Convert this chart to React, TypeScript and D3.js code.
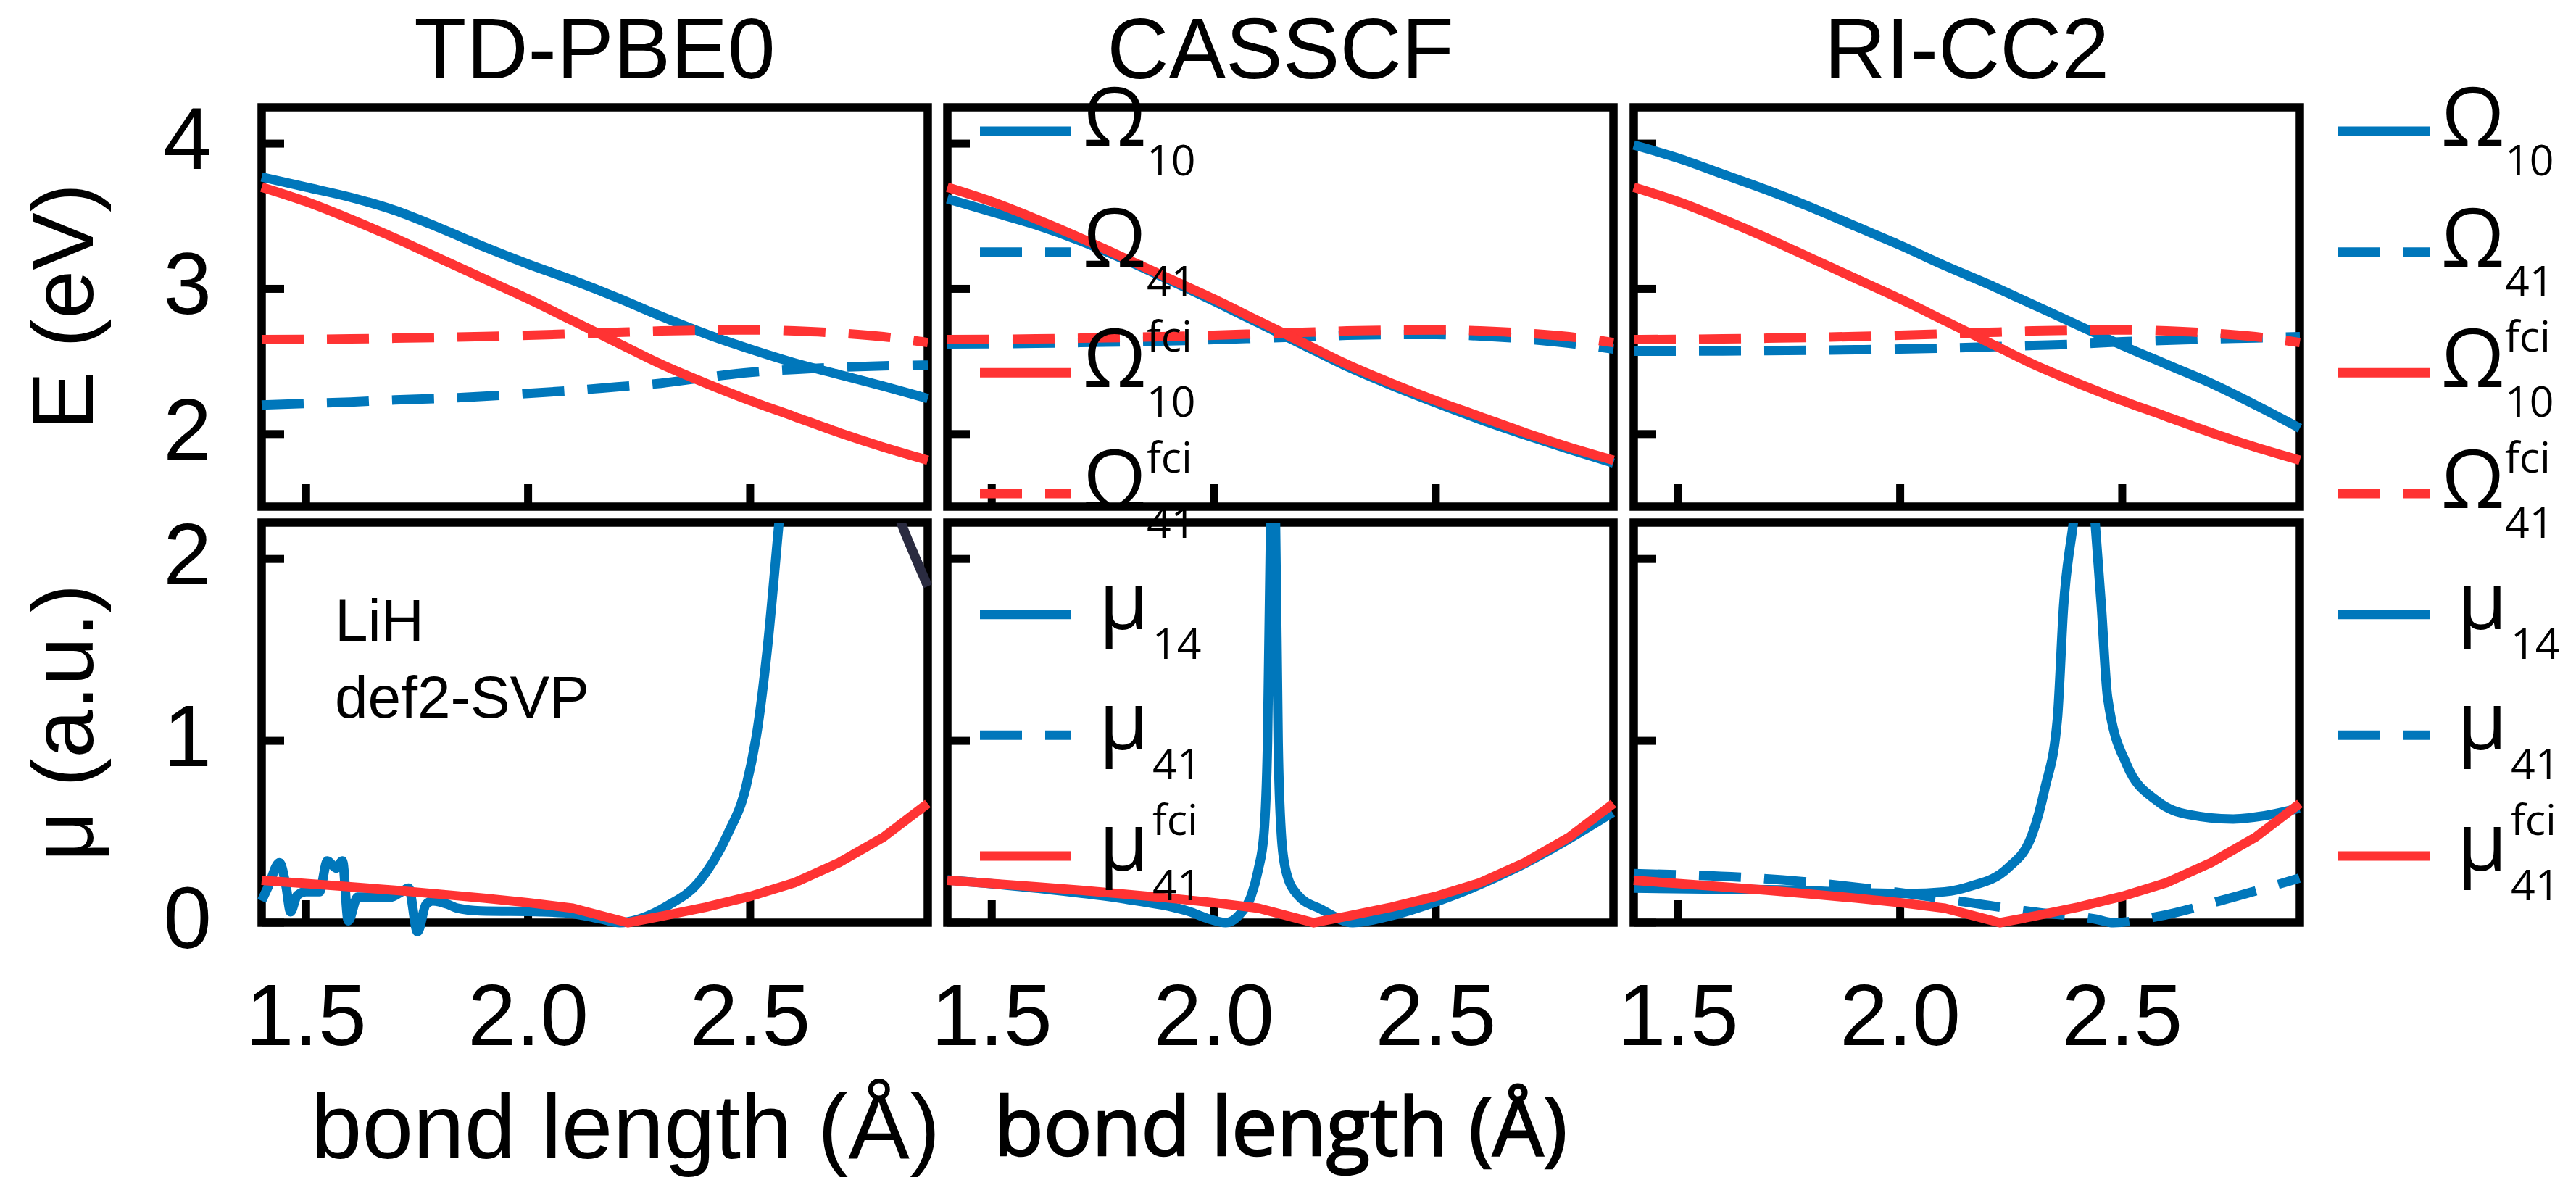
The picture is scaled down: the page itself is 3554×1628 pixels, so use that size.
import React, { useEffect } from 'react';
import * as d3 from 'd3';

// ---------------- data ----------------
const bondGrid = [1.4, 1.5, 1.6, 1.7, 1.8, 1.9, 2.0, 2.1, 2.2, 2.3, 2.4, 2.5, 2.6, 2.7, 2.8, 2.9];

// FCI references (same in every panel)
const omega10Fci = [3.70, 3.60, 3.48, 3.35, 3.21, 3.07, 2.93, 2.78, 2.63, 2.48, 2.35, 2.23, 2.12, 2.01, 1.91, 1.82];
const omega41Fci = [2.65, 2.652, 2.655, 2.66, 2.665, 2.672, 2.68, 2.69, 2.70, 2.71, 2.715, 2.717, 2.71, 2.695, 2.67, 2.63];
const mu41FciX = [1.4, 1.5, 1.6, 1.7, 1.8, 1.9, 2.0, 2.1, 2.225, 2.3, 2.4, 2.5, 2.6, 2.7, 2.8, 2.9];
const mu41FciY = [0.233, 0.215, 0.197, 0.178, 0.157, 0.135, 0.11, 0.08, 0.0, 0.035, 0.085, 0.145, 0.22, 0.33, 0.47, 0.655];

// TD-PBE0
const tdOmega10 = [3.77, 3.70, 3.63, 3.54, 3.42, 3.29, 3.17, 3.06, 2.94, 2.81, 2.69, 2.585, 2.49, 2.41, 2.33, 2.245];
const tdOmega41 = [2.20, 2.21, 2.22, 2.235, 2.245, 2.26, 2.28, 2.30, 2.325, 2.35, 2.39, 2.425, 2.445, 2.46, 2.47, 2.475];
const tdMu14X = [1.40, 1.415, 1.44, 1.455, 1.465, 1.48, 1.50, 1.53, 1.548, 1.568, 1.582, 1.595, 1.616, 1.636, 1.69, 1.715, 1.731, 1.751, 1.77, 1.785, 1.82, 1.84, 1.893, 2.029, 2.1, 2.164, 2.207, 2.25, 2.316, 2.383, 2.45, 2.49, 2.518, 2.538, 2.565, 2.58];
const tdMu14Y = [0.12, 0.2, 0.33, 0.2, 0.06, 0.15, 0.17, 0.17, 0.34, 0.30, 0.34, 0.01, 0.14, 0.14, 0.14, 0.17, 0.19, -0.05, 0.1, 0.12, 0.10, 0.08, 0.065, 0.06, 0.05, 0.02, 0.0, 0.02, 0.096, 0.22, 0.49, 0.74, 1.09, 1.49, 2.2, 2.6];
const tdDarkX = [2.82, 2.84, 2.87, 2.9];
const tdDarkY = [2.35, 2.2, 2.02, 1.85];

// CASSCF
const casOmega10 = [3.62, 3.53, 3.44, 3.33, 3.20, 3.06, 2.915, 2.765, 2.615, 2.465, 2.335, 2.215, 2.10, 1.995, 1.895, 1.80];
const casOmega41 = [2.62, 2.622, 2.625, 2.63, 2.635, 2.642, 2.65, 2.66, 2.67, 2.68, 2.685, 2.685, 2.675, 2.655, 2.625, 2.585];
const casMu14X = [1.4, 1.6, 1.8, 1.946, 1.99, 2.027, 2.06, 2.084, 2.10, 2.113, 2.121, 2.128, 2.132, 2.139, 2.145, 2.152, 2.162, 2.187, 2.244, 2.313, 2.393, 2.508, 2.68, 2.898];
const casMu14Y = [0.235, 0.19, 0.13, 0.06, 0.02, 0.0, 0.05, 0.146, 0.29, 0.49, 0.99, 2.2, 2.6, 2.2, 0.99, 0.49, 0.29, 0.158, 0.071, 0.0, 0.034, 0.121, 0.30, 0.606];

// RI-CC2
const ccOmega10 = [3.99, 3.90, 3.79, 3.68, 3.56, 3.43, 3.30, 3.16, 3.03, 2.89, 2.75, 2.61, 2.48, 2.35, 2.20, 2.04];
const ccOmega41 = [2.57, 2.571, 2.572, 2.574, 2.577, 2.58, 2.585, 2.592, 2.60, 2.61, 2.62, 2.635, 2.645, 2.655, 2.662, 2.67];
const ccMu14X = [1.40, 1.735, 2.017, 2.10, 2.157, 2.242, 2.298, 2.326, 2.354, 2.368, 2.39, 2.41, 2.425, 2.439, 2.453, 2.467, 2.51, 2.58, 2.65, 2.75, 2.834, 2.899];
const ccMu14Y = [0.19, 0.18, 0.16, 0.17, 0.2, 0.30, 0.49, 0.74, 1.12, 1.74, 2.2, 2.6, 2.6, 2.2, 1.74, 1.24, 0.87, 0.667, 0.594, 0.57, 0.594, 0.63];
const ccMu41X = [1.40, 1.735, 2.017, 2.157, 2.298, 2.439, 2.48, 2.58, 2.72, 2.899];
const ccMu41Y = [0.27, 0.235, 0.16, 0.11, 0.06, 0.02, 0.0, 0.034, 0.12, 0.245];

const methods = ['TD-PBE0', 'CASSCF', 'RI-CC2'];
const xTicks = [1.5, 2.0, 2.5];
const xTickLabels = ['1.5', '2.0', '2.5'];
const eTicks = [2, 3, 4];
const muTicks = [0, 1, 2];
const xDomain = [1.4, 2.9];
const eDomain = [1.5, 4.25];
const muDomain = [0, 2.2];

const BLUE = '#0077bb';
const RED = '#ff3333';
const DARK = '#2a2b40';

const legendItems = [
  { sym: 'Ω', sub: '10', sup: '', color: BLUE, dashed: false },
  { sym: 'Ω', sub: '41', sup: '', color: BLUE, dashed: true },
  { sym: 'Ω', sub: '10', sup: 'fci', color: RED, dashed: false },
  { sym: 'Ω', sub: '41', sup: 'fci', color: RED, dashed: true },
  { sym: 'μ', sub: '14', sup: '', color: BLUE, dashed: false },
  { sym: 'μ', sub: '41', sup: '', color: BLUE, dashed: true },
  { sym: 'μ', sub: '41', sup: 'fci', color: RED, dashed: false },
];

// ---------------- layout ----------------
const W = 3554;
const H = 1628;
const PANEL_LEFT = [361, 1307, 2254];
const PANEL_W = 919;
const TOP_Y = [148, 699];
const BOT_Y = [721, 1273];
const LW = 13;
const FRAME = 11.5;
const DASH = '58 32';
const SANS = "'Liberation Sans', Arial, Helvetica, sans-serif";
const OPEN = "'Open Sans', 'DejaVu Sans', sans-serif";

type Series = { xs: number[]; ys: number[]; color: string; dashed: boolean; curve: any };

const zip = (xs: number[], ys: number[]) => xs.map((v, i) => [v, ys[i]] as [number, number]);

function panelSeries(i: number) {
  const fciTop: Series[] = [
    { xs: bondGrid, ys: omega41Fci, color: RED, dashed: true, curve: d3.curveMonotoneX },
    { xs: bondGrid, ys: omega10Fci, color: RED, dashed: false, curve: d3.curveMonotoneX },
  ];
  const fciBot: Series = { xs: mu41FciX, ys: mu41FciY, color: RED, dashed: false, curve: d3.curveLinear };
  if (i === 0) {
    return {
      top: [
        { xs: bondGrid, ys: tdOmega41, color: BLUE, dashed: true, curve: d3.curveMonotoneX },
        { xs: bondGrid, ys: tdOmega10, color: BLUE, dashed: false, curve: d3.curveMonotoneX },
        ...fciTop,
      ],
      bot: [
        { xs: tdMu14X, ys: tdMu14Y, color: BLUE, dashed: false, curve: d3.curveMonotoneX },
        { xs: tdDarkX, ys: tdDarkY, color: DARK, dashed: false, curve: d3.curveMonotoneX },
        fciBot,
      ],
    };
  }
  if (i === 1) {
    return {
      top: [
        { xs: bondGrid, ys: casOmega41, color: BLUE, dashed: true, curve: d3.curveMonotoneX },
        { xs: bondGrid, ys: casOmega10, color: BLUE, dashed: false, curve: d3.curveMonotoneX },
        ...fciTop,
      ],
      bot: [
        { xs: casMu14X, ys: casMu14Y, color: BLUE, dashed: false, curve: d3.curveMonotoneX },
        fciBot,
      ],
    };
  }
  return {
    top: [
      { xs: bondGrid, ys: ccOmega41, color: BLUE, dashed: true, curve: d3.curveMonotoneX },
      { xs: bondGrid, ys: ccOmega10, color: BLUE, dashed: false, curve: d3.curveMonotoneX },
      ...fciTop,
    ],
    bot: [
      { xs: ccMu41X, ys: ccMu41Y, color: BLUE, dashed: true, curve: d3.curveMonotoneX },
      { xs: ccMu14X, ys: ccMu14Y, color: BLUE, dashed: false, curve: d3.curveMonotoneX },
      fciBot,
    ],
  };
}

function Legend({ x0 }: { x0: number }) {
  const y0 = 181;
  const step = 166.67;
  return (
    <g>
      {legendItems.map((it, k) => {
        const y = y0 + k * step;
        const isMu = it.sym === 'μ';
        const mainX = isMu ? x0 + 126 + 38 : x0 + 126 + 16;
        const subX = isMu ? x0 + 126 + 112 : x0 + 126 + 104;
        return (
          <g key={k}>
            <line x1={x0} x2={x0 + 126} y1={y} y2={y} stroke={it.color} strokeWidth={LW}
              strokeDasharray={it.dashed ? DASH : undefined} />
            <text x={mainX} y={y + 20} fontFamily={OPEN} fontSize={112} fill="#000">{it.sym}</text>
            <text x={subX} y={y + 61} fontFamily={OPEN} fontSize={59} fill="#000">{it.sub}</text>
            {it.sup ? (
              <text x={subX} y={y - 29} fontFamily={OPEN} fontSize={59} fill="#000">{it.sup}</text>
            ) : null}
          </g>
        );
      })}
    </g>
  );
}

export default function App() {
  useEffect(() => {
    document.body.style.margin = '0';
  }, []);

  const yE = d3.scaleLinear().domain(eDomain).range([TOP_Y[1], TOP_Y[0]]);
  const yM = d3.scaleLinear().domain(muDomain).range([BOT_Y[1], BOT_Y[0]]);

  return (
    <svg width={W} height={H} viewBox={`0 0 ${W} ${H}`}
      style={{ position: 'absolute', left: 0, top: 0, display: 'block', background: '#fff' }}>
      <rect x={0} y={0} width={W} height={H} fill="#fff" />
      <defs>
        {PANEL_LEFT.map((L, i) => (
          <g key={i}>
            <clipPath id={`ct${i}`}>
              <rect x={L - 12} y={TOP_Y[0]} width={PANEL_W + 24} height={TOP_Y[1] - TOP_Y[0] + 20} />
            </clipPath>
            <clipPath id={`cb${i}`}>
              <rect x={L - 12} y={BOT_Y[0]} width={PANEL_W + 24} height={BOT_Y[1] - BOT_Y[0] + 30} />
            </clipPath>
          </g>
        ))}
      </defs>

      {PANEL_LEFT.map((L, i) => {
        const x = d3.scaleLinear().domain(xDomain).range([L, L + PANEL_W]);
        const ser = panelSeries(i);
        const mk = (y: any, s: Series) =>
          d3.line<[number, number]>().x(d => x(d[0])).y(d => y(d[1])).curve(s.curve)(zip(s.xs, s.ys)) || '';
        return (
          <g key={i}>
            {/* title */}
            <text x={L + PANEL_W / 2} y={108} textAnchor="middle" fontFamily={SANS} fontSize={118}>{methods[i]}</text>
            {/* frames */}
            <rect x={L} y={TOP_Y[0]} width={PANEL_W} height={TOP_Y[1] - TOP_Y[0]} fill="none" stroke="#000" strokeWidth={FRAME} />
            <rect x={L} y={BOT_Y[0]} width={PANEL_W} height={BOT_Y[1] - BOT_Y[0]} fill="none" stroke="#000" strokeWidth={FRAME} />
            {/* ticks */}
            {eTicks.map(t => (
              <line key={`e${t}`} x1={L} x2={L + 31} y1={yE(t)} y2={yE(t)} stroke="#000" strokeWidth={11} />
            ))}
            {muTicks.map(t => (
              <line key={`m${t}`} x1={L} x2={L + 31} y1={yM(t)} y2={yM(t)} stroke="#000" strokeWidth={11} />
            ))}
            {xTicks.map(t => (
              <g key={`x${t}`}>
                <line x1={x(t)} x2={x(t)} y1={TOP_Y[1]} y2={TOP_Y[1] - 31} stroke="#000" strokeWidth={11} />
                <line x1={x(t)} x2={x(t)} y1={BOT_Y[1]} y2={BOT_Y[1] - 31} stroke="#000" strokeWidth={11} />
              </g>
            ))}
            {xTicks.map((t, k) => (
              <text key={`xl${t}`} x={x(t)} y={1442} textAnchor="middle" fontFamily={SANS} fontSize={120}>{xTickLabels[k]}</text>
            ))}
            {/* data */}
            <g clipPath={`url(#ct${i})`}>
              {ser.top.map((s, k) => (
                <path key={k} d={mk(yE, s)} fill="none" stroke={s.color} strokeWidth={LW}
                  strokeDasharray={s.dashed ? DASH : undefined} />
              ))}
            </g>
            <g clipPath={`url(#cb${i})`}>
              {ser.bot.map((s, k) => (
                <path key={k} d={mk(yM, s)} fill="none" stroke={s.color} strokeWidth={LW}
                  strokeDasharray={s.dashed ? DASH : undefined} />
              ))}
            </g>
          </g>
        );
      })}

      {/* y tick labels (first panel only) */}
      {eTicks.map(t => (
        <text key={`el${t}`} x={292} y={yE(t) + 35} textAnchor="end" fontFamily={SANS} fontSize={120}>{t}</text>
      ))}
      {muTicks.map(t => (
        <text key={`ml${t}`} x={292} y={yM(t) + 35} textAnchor="end" fontFamily={SANS} fontSize={120}>{t}</text>
      ))}

      {/* axis labels */}
      <text transform="translate(128,423) rotate(-90)" textAnchor="middle" fontFamily={SANS} fontSize={120}>E (eV)</text>
      <text transform="translate(128,997) rotate(-90)" textAnchor="middle" fontFamily={SANS} fontSize={120}>μ (a.u.)</text>
      <text x={863} y={1598} textAnchor="middle" fontFamily={SANS} fontSize={127}>bond length (Å)</text>
      <text x={1767} y={1594} textAnchor="middle" fontFamily={OPEN} fontSize={111}
        stroke="#000" strokeWidth={2.5}>bond length (Å)</text>

      {/* annotation */}
      <text x={462} y={884} fontFamily={SANS} fontSize={82}>LiH</text>
      <text x={462} y={990} fontFamily={SANS} fontSize={82}>def2-SVP</text>

      {/* legends */}
      <Legend x0={1352} />
      <Legend x0={3226} />
    </svg>
  );
}
